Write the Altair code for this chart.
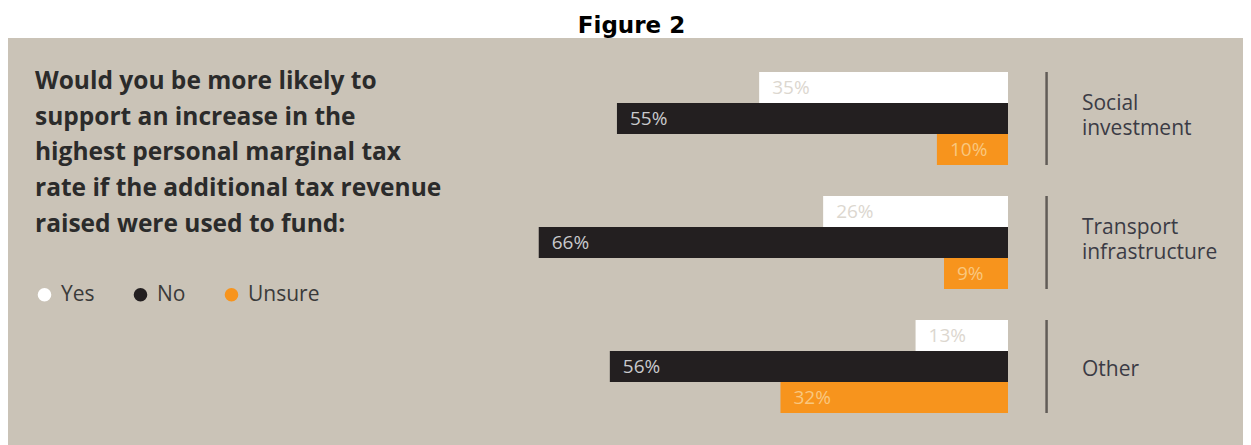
import altair as alt
import pandas as pd

# ---- data ----
categories = ["Social investment", "Transport infrastructure", "Other"]
category_lines = ["Social\ninvestment", "Transport\ninfrastructure", "Other"]
series = ["Yes", "No", "Unsure"]
yes_vals = [35, 26, 13]
no_vals = [55, 66, 56]
unsure_vals = [10, 9, 32]
question = ("Would you be more likely to\nsupport an increase in the\nhighest personal marginal tax\n"
            "rate if the additional tax revenue\nraised were used to fund:")
fig_title = "Figure 2"

# ---- styles ----
BG = "#cac3b7"
bar_colors = ["#ffffff", "#231f20", "#f7941d"]
label_colors = ["#dcd7cf", "#c9cacd", "#f9c77f"]
FONT = "Open Sans"

rows = []
for s, vals in zip(series, [yes_vals, no_vals, unsure_vals]):
    for c, v in zip(categories, vals):
        rows.append({"category": c, "series": s, "value": v, "label": f"{v}%"})
df = pd.DataFrame(rows)
cat_df = pd.DataFrame({"category": categories, "lines": category_lines})
q_df = pd.DataFrame({"q": [question]})

xscale = alt.Scale(domain=[0, 100], range=[1000, 289])
yscale = alt.Scale(domain=categories, range=[34, 375], paddingInner=0.25, paddingOuter=0)
yoff = alt.YOffset("series:N", sort=series, scale=alt.Scale(domain=series, paddingInner=0, paddingOuter=0))

Y = alt.Y("category:N", sort=categories, scale=yscale, axis=None)

bars = alt.Chart(df).mark_bar(opacity=1).encode(
    x=alt.X("value:Q", scale=xscale, axis=None),
    x2=alt.datum(0),
    y=Y,
    yOffset=yoff,
    color=alt.Color("series:N", sort=series,
                    scale=alt.Scale(domain=series, range=bar_colors),
                    legend=alt.Legend(title=None, orient="none", legendX=26, legendY=246,
                                      direction="horizontal", symbolType="circle", symbolSize=185,
                                      symbolStrokeWidth=0, symbolOpacity=1, labelFont=FONT,
                                      labelFontSize=21, labelColor="#3a3a3a", labelOffset=6,
                                      columnPadding=35, padding=0)),
)

labels = alt.Chart(df).mark_text(align="left", baseline="middle", dx=13, font=FONT, fontSize=19).encode(
    x=alt.X("value:Q", scale=xscale, axis=None),
    y=Y,
    yOffset=yoff,
    text="label:N",
    color=alt.Color("series:N", sort=series, scale=alt.Scale(domain=series, range=label_colors), legend=None),
)

seps = alt.Chart(cat_df).mark_bar(color="#615c57").encode(
    x=alt.datum(-5.25, scale=xscale),
    x2=alt.datum(-5.6),
    y=Y,
)

cat_base = alt.Chart(cat_df).encode(
    x=alt.datum(-10.4, scale=xscale),
    y=Y,
    text="lines:N",
)
cat_style = dict(align="left", baseline="middle", font=FONT, fontSize=21,
                 lineBreak="\n", lineHeight=25, color="#3b3b45")
cat_two = cat_base.transform_filter("indexof(datum.lines, '\\n') >= 0").mark_text(dy=-15, **cat_style)
cat_one = cat_base.transform_filter("indexof(datum.lines, '\\n') < 0").mark_text(dy=3, **cat_style)

q_text = alt.Chart(q_df).mark_text(align="left", baseline="alphabetic", font=FONT, fontSize=24.5,
                                   fontWeight="bold", lineBreak="\n", lineHeight=35.7, color="#2b2b2b").encode(
    x=alt.value(27),
    y=alt.value(51),
    text="q:N",
)

chart = alt.layer(bars, labels, seps, cat_two, cat_one, q_text).resolve_scale(color="independent").properties(
    width=1235,
    height=407,
    title=alt.TitleParams(fig_title, font="DejaVu Sans", fontSize=23, fontWeight="bold", color="#000000",
                          anchor="middle", dx=6, offset=0),
    autosize=alt.AutoSizeParams(type="none"),
    padding={"top": 30, "left": 0, "right": 0, "bottom": 0},
    background="#ffffff",
).configure_view(fill=BG, stroke=None)

chart.save("out.html", embed_options={"renderer": "svg", "actions": False})
